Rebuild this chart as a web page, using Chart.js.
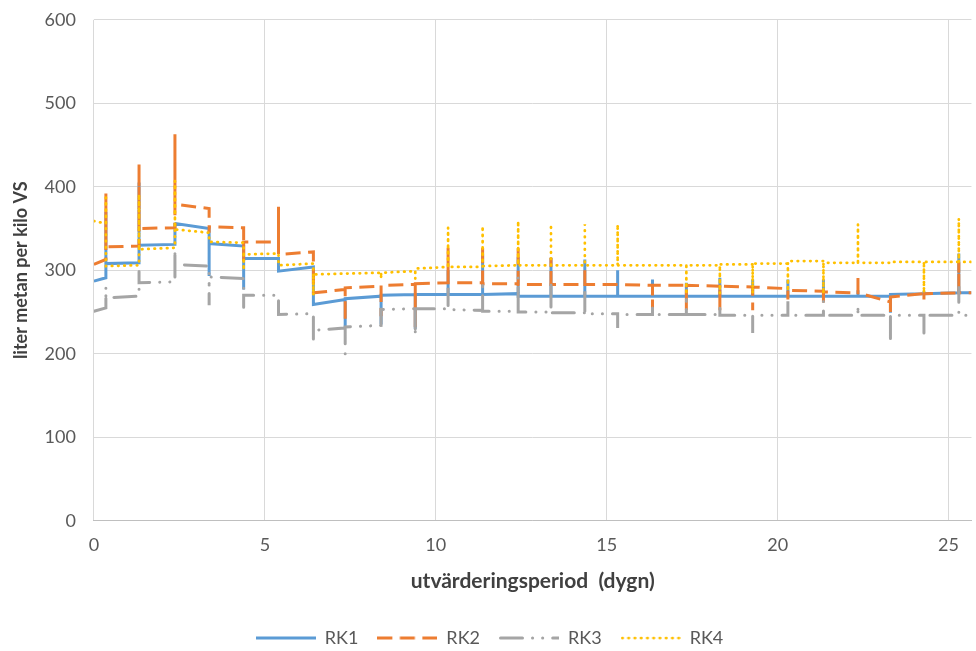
<!DOCTYPE html>
<html>
<head>
<meta charset="utf-8">
<script src="https://cdn.jsdelivr.net/npm/chart.js@4.4.1/dist/chart.umd.min.js"></script>
<style>
  html, body { margin: 0; padding: 0; background: #fff; }
  #wrap { width: 976px; height: 651px; }
</style>
</head>
<body>
<div id="wrap"><canvas id="chart" width="976" height="651"></canvas></div>
<script>
// feeding days (vertical jumps), x range end (picture is cut at the right edge)
const feedDays = [0.35, 1.32, 2.37, 3.37, 4.38, 5.4, 6.42, 7.35, 8.4, 9.4, 10.36, 11.37, 12.41,
  13.37, 14.36, 15.32, 16.34, 17.33, 18.31, 19.27, 20.3, 21.34, 22.35, 23.3, 24.28, 25.3];
const xEnd = 25.67;

// level at start / end of each interval between feedings, and the spike at each feeding
const rk1Start = [287, 308, 330, 356, 332, 314, 299, 259, 266, 270, 271, 271, 271, 269, 269, 269, 269, 269, 269, 269, 269, 269, 269, 269, 271, 272, 273];
const rk1End   = [291, 309, 331, 350, 329, 314, 304, 265, 269, 271, 271, 271, 272, 269, 269, 269, 269, 269, 269, 269, 269, 269, 269, 269, 272, 273, 273];
const rk1Spike = [370, 405, 357, 293, 277, 297, 258, 232, 235, 230, 300, 320, 316, 315, 313, 300, 289, 285, 291, 289, 289, 289, 276, 249, 275, 320];

const rk2Start = [307, 328, 350, 379, 352, 334, 319, 273, 279, 282, 284, 285, 284, 283, 283, 283, 283, 282, 282, 281, 280, 276, 274, 273, 268, 272, 273];
const rk2End   = [313, 329, 351, 374, 351, 334, 322, 277, 281, 283, 285, 285, 284, 283, 283, 283, 282, 282, 281, 280, 278, 275, 273, 262, 272, 273, 273];
const rk2Spike = [392, 427, 463, 345, 311, 376, 290, 239, 245, 232, 327, 331, 330, 315, 300, 283, 254, 251, 251, 252, 265, 260, 295, 250, 265, 310];

const rk3Start = [251, 267, 285, 307, 292, 270, 247, 228, 232, 253, 254, 253, 251, 250, 249, 248, 247, 247, 247, 246, 246, 246, 246, 246, 246, 246, 246];
const rk3End   = [255, 269, 286, 305, 290, 270, 248, 231, 234, 254, 254, 252, 251, 250, 249, 248, 247, 247, 247, 246, 246, 246, 246, 246, 246, 246, 246];
const rk3Spike = [280, 300, 325, 258, 255, 258, 214, 200, 255, 222, 279, 287, 291, 283, 275, 231, 259, 270, 260, 225, 263, 263, 258, 218, 221, 281];

const rk4Start = [359, 305, 325, 349, 334, 319, 306, 295, 296, 297, 302, 304, 305, 306, 306, 306, 306, 306, 306, 307, 308, 311, 309, 309, 310, 310, 310];
const rk4End   = [356, 306, 327, 345, 333, 320, 308, 296, 297, 299, 304, 304, 306, 306, 306, 306, 306, 306, 306, 307, 308, 311, 309, 309, 310, 310, 310];
const rk4Spike = [387, 391, 407, 345, 300, 320, 270, 296, 290, 290, 351, 353, 359, 355, 355, 355, 306, 271, 272, 272, 275, 272, 355, 309, 273, 362];

const seriesNames = ["RK1", "RK2", "RK3", "RK4"];
const xTicks = [0, 5, 10, 15, 20, 25];
const yTicks = [0, 100, 200, 300, 400, 500, 600];

// build step-like path: level segments with vertical spikes at each feeding
const buildPoints = (starts, ends, spikes) => {
  const bounds = [0, ...feedDays, xEnd];
  const pts = [];
  for (let i = 0; i < starts.length; i++) {
    pts.push({ x: bounds[i], y: starts[i] });
    pts.push({ x: bounds[i + 1], y: ends[i] });
    if (i < spikes.length) pts.push({ x: bounds[i + 1], y: spikes[i] });
  }
  return pts;
};

// small canvas with the dataset's line style, used as legend sample
const legendSample = (ds) => {
  const c = document.createElement("canvas");
  c.width = 60;
  c.height = 6;
  const g = c.getContext("2d");
  g.strokeStyle = ds.borderColor;
  g.lineWidth = ds.borderWidth;
  g.lineCap = ds.borderCapStyle || "butt";
  g.setLineDash(ds.borderDash || []);
  g.beginPath();
  g.moveTo(ds.borderCapStyle === "round" ? 1.5 : 0, 3);
  g.lineTo(60, 3);
  g.stroke();
  return c;
};

const font = "Lato, 'Liberation Sans', sans-serif";

const ctx = document.getElementById("chart").getContext("2d");
new Chart(ctx, {
  type: "scatter",
  data: {
    datasets: [
      {
        label: seriesNames[0],
        data: buildPoints(rk1Start, rk1End, rk1Spike),
        borderColor: "#5B9BD5",
        backgroundColor: "#5B9BD5",
        borderWidth: 3,
        order: 3,
      },
      {
        label: seriesNames[1],
        data: buildPoints(rk2Start, rk2End, rk2Spike),
        borderColor: "#ED7D31",
        backgroundColor: "#ED7D31",
        borderWidth: 3,
        borderDash: [15, 7.5],
        order: 2,
      },
      {
        label: seriesNames[2],
        data: buildPoints(rk3Start, rk3End, rk3Spike),
        borderColor: "#A5A5A5",
        backgroundColor: "#A5A5A5",
        borderWidth: 3,
        borderDash: [22, 10, 0.1, 10, 0.1, 10],
        borderCapStyle: "round",
        order: 1,
      },
      {
        label: seriesNames[3],
        data: buildPoints(rk4Start, rk4End, rk4Spike),
        borderColor: "#FFC000",
        backgroundColor: "#FFC000",
        borderWidth: 2.75,
        borderDash: [0.5, 5.75],
        borderCapStyle: "round",
        order: 0,
      },
    ],
  },
  options: {
    responsive: false,
    animation: false,
    showLine: true,
    elements: {
      point: { radius: 0, hoverRadius: 0 },
      line: { tension: 0, borderJoinStyle: "miter" },
    },
    layout: { padding: { left: 3, right: 0, top: 0, bottom: -6 } },
    scales: {
      x: {
        type: "linear",
        min: 0,
        max: xEnd,
        ticks: {
          stepSize: 5,
          includeBounds: false,
          color: "#595959",
          font: { family: font, size: 18, lineHeight: 0.78 },
          padding: 17,
          callback: (v) => (xTicks.includes(v) ? String(v) : ""),
        },
        grid: { color: "#d9d9d9", drawTicks: false },
        border: { color: "#bfbfbf" },
        title: {
          display: true,
          text: "utvärderingsperiod  (dygn)",
          color: "#404040",
          font: { family: font, size: 21, weight: "bold" },
          padding: { top: 0, bottom: 16 },
        },
      },
      y: {
        min: 0,
        max: 600,
        ticks: {
          stepSize: 100,
          color: "#595959",
          font: { family: font, size: 18, lineHeight: 0.2 },
          padding: 18,
          callback: (v) => (yTicks.includes(v) ? String(v) : ""),
        },
        grid: { color: "#d9d9d9", drawTicks: false },
        border: { display: false },
        title: {
          display: true,
          text: "liter metan per kilo VS",
          color: "#404040",
          font: { family: font, size: 18, weight: "bold" },
          padding: { top: 7, bottom: -5 },
        },
      },
    },
    plugins: {
      legend: {
        position: "bottom",
        labels: {
          usePointStyle: true,
          pointStyleWidth: 60,
          boxHeight: 18,
          padding: 19,
          color: "#595959",
          font: { family: font, size: 18 },
          generateLabels: (chart) => {
            const items = Chart.defaults.plugins.legend.labels.generateLabels(chart);
            items.forEach((item) => {
              item.pointStyle = legendSample(chart.data.datasets[item.datasetIndex]);
            });
            return items;
          },
          sort: (a, b) => a.datasetIndex - b.datasetIndex,
        },
      },
      tooltip: { enabled: false },
    },
  },
});
</script>
</body>
</html>
